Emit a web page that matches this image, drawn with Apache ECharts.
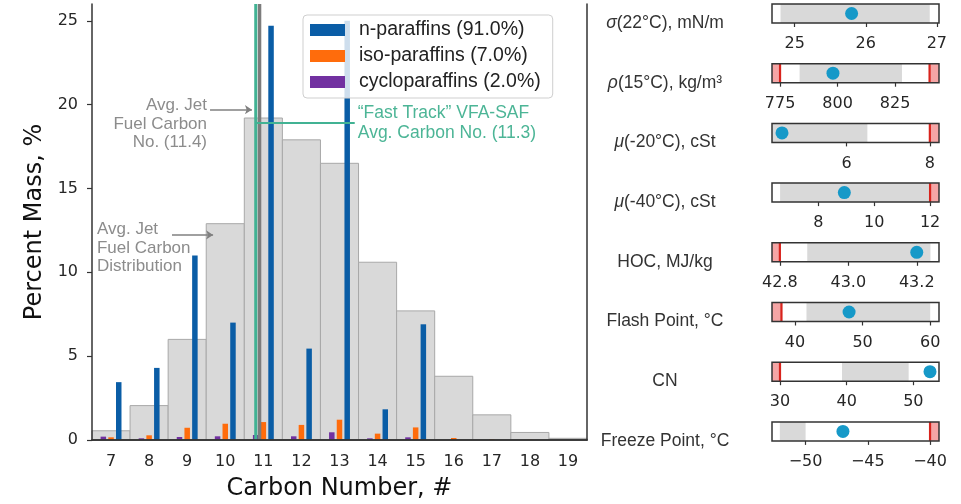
<!DOCTYPE html>
<html>
<head>
<meta charset="utf-8">
<script src="https://cdn.jsdelivr.net/npm/echarts@6/dist/echarts.min.js"></script>
<style>
  html, body { margin: 0; padding: 0; background: #fff; }
  #chart { width: 961px; height: 504px; }
</style>
</head>
<body>
<div id="chart"></div>
<script>
// ---- Carbon-number distribution (percent mass) ----
const carbonNumbers = [7, 8, 9, 10, 11, 12, 13, 14, 15, 16, 17, 18, 19];
const jetFuelDistribution = [0.55, 2.05, 6.0, 12.9, 19.2, 17.9, 16.5, 10.6, 7.7, 3.8, 1.5, 0.45, 0.1];
const nParaffins     = [3.45, 4.3, 11.0, 7.0, 24.7, 5.45, 25.0, 1.83, 6.9, 0, 0, 0, 0];
const isoParaffins   = [0.16, 0.28, 0.73, 0.97, 1.07, 0.9, 1.21, 0.38, 0.75, 0.12, 0.05, 0.02, 0];
const cycloParaffins = [0.2, 0.1, 0.18, 0.22, 0.3, 0.22, 0.46, 0.1, 0.16, 0, 0, 0, 0];
const seriesNames = ['n-paraffins (91.0%)', 'iso-paraffins (7.0%)', 'cycloparaffins (2.0%)'];
const yTicks = [0, 5, 10, 15, 20, 25];

// Average carbon numbers
const avgJetFuelCarbon = 11.4;
const avgSafCarbon = 11.3;

// ---- Fuel property panels ----
const propLabels = [
  '{i|σ}(22°C), mN/m',
  '{i|ρ}(15°C), kg/m³',
  '{i|μ}(-20°C), cSt',
  '{i|μ}(-40°C), cSt',
  'HOC, MJ/kg',
  'Flash Point, °C',
  'CN',
  'Freeze Point, °C'
];
const propAxisMin  = [24.68, 771.5, 4.21, 6.34, 42.777, 36.6, 28.8, -52.7];
const propAxisMax  = [27.03, 844.1, 8.22, 12.32, 43.265, 61.3, 53.85, -39.28];
const propTicks = [
  [25, 26, 27], [775, 800, 825], [6, 8], [8, 10, 12],
  [42.8, 43.0, 43.2], [40, 50, 60], [30, 40, 50], [-50, -45, -40]
];
const propTickDecimals = [0, 0, 0, 0, 1, 0, 0, 0];
const propRangeLow  = [24.8, 783.5, 4.21, 6.63, 42.88, 41.7, 39.3, -52.07];
const propRangeHigh = [26.9, 828, 6.5, 12, 43.24, 60, 49.3, -50];
const propLowerLimit = [null, 775, null, null, 42.8, 38, 30, null];
const propUpperLimit = [null, 840, 8, 12, null, null, null, -40];
const propMeasured = [25.8, 798, 4.45, 8.93, 43.2, 48, 52.5, -47];

// ---- Layout & style ----
const MAIN = { left: 92, top: 4, width: 495, height: 436, outerBoundsMode: 'none' };
const PANEL = { left: 772, width: 167, height: 19, top0: 4, step: 59.7, labelX: 665, labelDy: 9.5 };
// average markers sit on the bin-edge scale of the histogram
const AVG_EDGE_SHIFT = -0.5;
const BIN_HALF = 0.5;
const TICK_FONT = 'DejaVu Sans';
const TEXT_FONT = 'Liberation Sans';
const AXIS_COLOR = '#333';
const COLORS = { n: '#0a5da6', iso: '#ff6c0c', cyclo: '#7231a1' };

const chart = echarts.init(document.getElementById('chart'));

const grids = [Object.assign({}, MAIN)];
const xAxes = [
  {
    type: 'category', gridIndex: 0, data: carbonNumbers.map(String), boundaryGap: true, z: 5,
    axisLine: { lineStyle: { color: AXIS_COLOR, width: 1.5 } },
    axisTick: { alignWithLabel: true, length: 5, lineStyle: { color: AXIS_COLOR, width: 1.2 } },
    axisLabel: { fontFamily: TICK_FONT, fontSize: 16, color: '#262626', margin: 14 },
    name: 'Carbon Number, #', nameLocation: 'middle', nameGap: 37,
    nameTextStyle: { fontFamily: TICK_FONT, fontSize: 24, color: '#111' }
  },
  {
    type: 'value', gridIndex: 0, min: 6.5, max: 19.5, position: 'top', z: 5,
    axisLine: { show: true, lineStyle: { color: AXIS_COLOR, width: 1.5 } },
    axisTick: { show: false }, axisLabel: { show: false }, splitLine: { show: false }
  }
];
const yAxes = [
  {
    type: 'value', gridIndex: 0, min: 0, max: 26, z: 5,
    axisLine: { show: true, lineStyle: { color: AXIS_COLOR, width: 1.5 } },
    axisTick: { show: true, length: 5, customValues: yTicks, lineStyle: { color: AXIS_COLOR, width: 1.2 } },
    axisLabel: { customValues: yTicks, fontFamily: TICK_FONT, fontSize: 16, color: '#262626', margin: 14 },
    splitLine: { show: false },
    name: 'Percent Mass, %', nameLocation: 'middle', nameGap: 43,
    nameTextStyle: { fontFamily: TICK_FONT, fontSize: 24, color: '#111' }
  },
  {
    type: 'value', gridIndex: 0, min: 0, max: 26, position: 'right', z: 5,
    axisLine: { show: true, lineStyle: { color: AXIS_COLOR, width: 1.5 } },
    axisTick: { show: false }, axisLabel: { show: false }, splitLine: { show: false }
  }
];

const series = [
  // jet fuel carbon distribution drawn as unit-width bins
  {
    type: 'custom', xAxisIndex: 1, yAxisIndex: 0, silent: true,
    data: carbonNumbers.map(function (c, k) { return [c, jetFuelDistribution[k]]; }),
    renderItem: function (params, api) {
      const c = api.value(0), h = api.value(1);
      const p0 = api.coord([c - BIN_HALF, h]);
      const p1 = api.coord([c + BIN_HALF, 0]);
      return { type: 'rect', shape: { x: p0[0], y: p0[1], width: p1[0] - p0[0], height: p1[1] - p0[1] },
        style: { fill: '#d9d9d9', stroke: '#a8a8a8', lineWidth: 1 } };
    }
  },
  { name: seriesNames[2], type: 'bar', xAxisIndex: 0, yAxisIndex: 0, data: cycloParaffins,
    barWidth: 5.5, barGap: '40%', itemStyle: { color: COLORS.cyclo } },
  { name: seriesNames[1], type: 'bar', xAxisIndex: 0, yAxisIndex: 0, data: isoParaffins,
    barWidth: 5.5, barGap: '40%', itemStyle: { color: COLORS.iso } },
  { name: seriesNames[0], type: 'bar', xAxisIndex: 0, yAxisIndex: 0, data: nParaffins,
    barWidth: 5.5, barGap: '40%', itemStyle: { color: COLORS.n } },
  // average carbon number markers
  {
    type: 'line', xAxisIndex: 1, yAxisIndex: 0, symbol: 'none', silent: true,
    data: [[avgJetFuelCarbon + AVG_EDGE_SHIFT, 0], [avgJetFuelCarbon + AVG_EDGE_SHIFT, 26]],
    lineStyle: { color: '#7c7c7c', width: 3.5 }
  },
  {
    type: 'line', xAxisIndex: 1, yAxisIndex: 0, symbol: 'none', silent: true,
    data: [[avgSafCarbon + AVG_EDGE_SHIFT, 0], [avgSafCarbon + AVG_EDGE_SHIFT, 26]],
    lineStyle: { color: '#41b293', width: 3 }
  },
  {
    type: 'line', xAxisIndex: 1, yAxisIndex: 0, symbol: 'none', silent: true,
    data: [[avgSafCarbon + AVG_EDGE_SHIFT, 18.9], [13.4, 18.9]],
    lineStyle: { color: '#41b293', width: 2 }
  },
  // annotation arrows
  {
    type: 'lines', coordinateSystem: 'cartesian2d', xAxisIndex: 1, yAxisIndex: 0, silent: true,
    symbol: ['none', 'arrow'], symbolSize: 7,
    lineStyle: { color: '#808080', width: 1.5, opacity: 1 },
    data: [
      { coords: [[9.6, 19.7], [10.7, 19.7]] },
      { coords: [[8.6, 12.23], [9.68, 12.23]] }
    ]
  }
];

// property panels: one small cartesian grid per property
propLabels.forEach(function (label, i) {
  const top = PANEL.top0 + i * PANEL.step;
  grids.push({ left: PANEL.left, top: top, width: PANEL.width, height: PANEL.height, outerBoundsMode: 'none' });
  const gi = i + 1;
  const dec = propTickDecimals[i];
  xAxes.push({
    type: 'value', gridIndex: gi, min: propAxisMin[i], max: propAxisMax[i],
    axisLine: { show: false },
    axisTick: { show: true, length: 4, customValues: propTicks[i], lineStyle: { color: AXIS_COLOR, width: 1.2 } },
    axisLabel: {
      customValues: propTicks[i], fontFamily: TICK_FONT, fontSize: 16, color: '#262626', margin: 13,
      formatter: function (v) { return v.toFixed(dec).replace('-', '\u2212'); }
    },
    splitLine: { show: false }
  });
  yAxes.push({ type: 'value', gridIndex: gi, min: 0, max: 1, show: false });

  series.push({
    type: 'custom', xAxisIndex: i + 2, yAxisIndex: i + 2, silent: true, data: [[propMeasured[i], 0.5]],
    renderItem: function (params, api) {
      const cs = params.coordSys;
      const xOf = function (v) { return api.coord([v, 0.5])[0]; };
      const children = [];
      const bx0 = xOf(propRangeLow[i]), bx1 = xOf(propRangeHigh[i]);
      children.push({ type: 'rect', shape: { x: bx0, y: cs.y, width: bx1 - bx0, height: cs.height },
        style: { fill: '#d9d9d9' } });
      if (propLowerLimit[i] !== null) {
        const lx = xOf(propLowerLimit[i]);
        children.push({ type: 'rect', shape: { x: cs.x, y: cs.y, width: lx - cs.x, height: cs.height },
          style: { fill: '#f5a5a5' } });
        children.push({ type: 'line', shape: { x1: lx, y1: cs.y, x2: lx, y2: cs.y + cs.height },
          style: { stroke: '#d8231c', lineWidth: 2.2 } });
      }
      if (propUpperLimit[i] !== null) {
        const ux = xOf(propUpperLimit[i]);
        children.push({ type: 'rect', shape: { x: ux, y: cs.y, width: cs.x + cs.width - ux, height: cs.height },
          style: { fill: '#f5a5a5' } });
        children.push({ type: 'line', shape: { x1: ux, y1: cs.y, x2: ux, y2: cs.y + cs.height },
          style: { stroke: '#d8231c', lineWidth: 2.2 } });
      }
      children.push({ type: 'rect', shape: { x: cs.x, y: cs.y, width: cs.width, height: cs.height },
        style: { fill: 'none', stroke: AXIS_COLOR, lineWidth: 1.5 } });
      return { type: 'group', children: children };
    }
  });
  series.push({
    type: 'scatter', xAxisIndex: i + 2, yAxisIndex: i + 2, silent: true, z: 4,
    data: [[propMeasured[i], 0.5]], symbolSize: 13, itemStyle: { color: '#1699c8', opacity: 1 }
  });
});

chart.setOption({
  animation: false,
  backgroundColor: '#ffffff',
  grid: grids,
  xAxis: xAxes,
  yAxis: yAxes,
  legend: {
    left: 303, top: 15, orient: 'vertical', data: seriesNames, icon: 'rect',
    itemWidth: 35, itemHeight: 12, itemGap: 6, padding: [5, 12, 6, 7],
    backgroundColor: 'rgba(255,255,255,0.8)', borderColor: '#cfcfcf', borderWidth: 1, borderRadius: 4,
    textStyle: { fontFamily: TEXT_FONT, fontSize: 19.5, color: '#222', lineHeight: 20, padding: [0, 0, 0, 9] },
    selectedMode: false
  },
  series: series
});

// ---- Text annotations, placed in data coordinates of the main plot ----
const toPx = function (x, y) { return chart.convertToPixel({ xAxisIndex: 1, yAxisIndex: 0 }, [x, y]); };
const graphics = [];
const a1 = toPx(9.52, 18.84);
graphics.push({ type: 'text', x: a1[0], y: a1[1], silent: true, z: 10,
  style: { text: 'Avg. Jet\nFuel Carbon\nNo. (' + avgJetFuelCarbon.toFixed(1) + ')', align: 'right', verticalAlign: 'middle',
    fontFamily: TEXT_FONT, fontSize: 17, lineHeight: 18.5, fill: '#8c8c8c' } });
const a2 = toPx(6.63, 11.46);
graphics.push({ type: 'text', x: a2[0], y: a2[1], silent: true, z: 10,
  style: { text: 'Avg. Jet\nFuel Carbon\nDistribution', align: 'left', verticalAlign: 'middle',
    fontFamily: TEXT_FONT, fontSize: 17, lineHeight: 18.5, fill: '#8c8c8c' } });
const a3 = toPx(13.48, 18.87);
graphics.push({ type: 'text', x: a3[0], y: a3[1], silent: true, z: 10,
  style: { text: '\u201CFast Track\u201D VFA-SAF\nAvg. Carbon No. (' + avgSafCarbon.toFixed(1) + ')', align: 'left', verticalAlign: 'middle',
    fontFamily: TEXT_FONT, fontSize: 17.5, lineHeight: 20, fill: '#4cb596' } });

// property row labels
propLabels.forEach(function (label, i) {
  const cy = PANEL.top0 + i * PANEL.step + PANEL.height / 2 + PANEL.labelDy;
  graphics.push({ type: 'text', x: PANEL.labelX, y: cy, silent: true,
    style: { text: label, align: 'center', verticalAlign: 'middle',
      fontFamily: TEXT_FONT, fontSize: 17.5, fill: '#333',
      rich: { i: { fontStyle: 'italic', fontFamily: TEXT_FONT, fontSize: 17.5, fill: '#333', color: '#333' } } } });
});

chart.setOption({ graphic: graphics });
</script>
</body>
</html>
